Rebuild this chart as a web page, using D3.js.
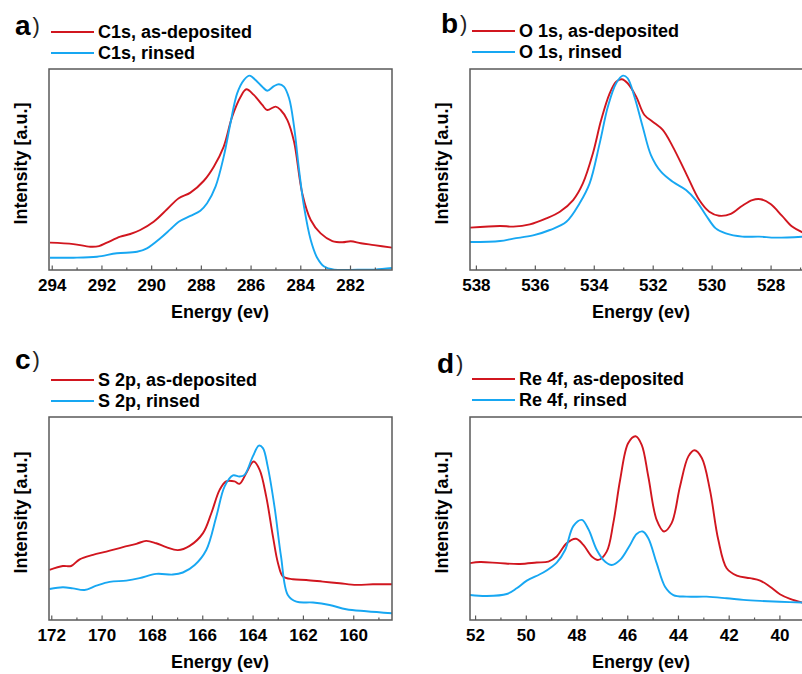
<!DOCTYPE html>
<html>
<head>
<meta charset="utf-8">
<script src="https://cdn.jsdelivr.net/npm/d3@7"></script>
<style>
  html, body { margin: 0; padding: 0; background: #fff; }
  svg { display: block; font-family: Arial, 'Liberation Sans', sans-serif; }
</style>
</head>
<body>
<svg id="chart" width="802" height="674"></svg>
<script>
// C1s
const c1sDepE = [294.07, 293.13, 292.45, 292.1, 291.78, 291.24, 290.84, 290.44, 289.9, 289.36, 288.89, 288.42, 287.88, 287.48, 287.08, 286.74, 286.4, 286.17, 285.87, 285.53, 285.33, 284.99, 284.79, 284.52, 284.25, 283.92, 283.58, 283.18, 282.71, 282.3, 281.97, 281.56, 281.03, 280.29];
const c1sDepI = [13.6, 12.9, 11.6, 11.9, 13.6, 16.6, 17.9, 19.9, 24.0, 30.2, 35.7, 38.5, 44.4, 51.4, 61.4, 76.3, 86.2, 89.9, 87.1, 82.1, 79.6, 81.3, 79.6, 74.6, 63.8, 38.1, 24.9, 18.2, 14.4, 13.8, 14.3, 13.3, 12.4, 11.1];
const c1sRinE = [294.07, 293.13, 292.18, 291.38, 290.57, 290.17, 289.63, 289.23, 288.89, 288.42, 288.02, 287.75, 287.41, 287.08, 286.81, 286.54, 286.27, 286.04, 285.8, 285.53, 285.33, 285.06, 284.86, 284.66, 284.45, 284.25, 284.05, 283.85, 283.58, 283.31, 283.04, 282.64, 281.7, 281.0, 280.29];
const c1sRinI = [6.1, 6.1, 6.6, 8.3, 9.1, 10.8, 15.8, 20.2, 24.0, 26.9, 29.5, 33.2, 41.5, 56.4, 73.0, 87.9, 94.5, 96.7, 94.5, 91.2, 89.2, 91.5, 92.4, 91.2, 85.4, 71.3, 49.8, 31.5, 14.9, 5.8, 1.7, 0.2, 0.1, 0.2, 1.0];

// O 1s
const o1sDepE = [538.2, 537.18, 536.73, 536.17, 535.61, 535.15, 534.7, 534.37, 534.03, 533.75, 533.46, 533.24, 533.05, 532.85, 532.56, 532.28, 532.0, 531.66, 531.32, 530.87, 530.42, 530.08, 529.75, 529.35, 528.96, 528.62, 528.34, 528.0, 527.61, 527.27, 526.9];
const o1sDepI = [21.1, 21.9, 21.6, 22.7, 25.7, 29.0, 34.8, 43.1, 58.0, 74.6, 87.9, 93.7, 94.9, 92.9, 86.2, 77.1, 73.8, 69.7, 61.4, 48.1, 34.8, 29.0, 27.0, 27.9, 32.0, 34.8, 35.2, 32.8, 26.9, 21.6, 18.6];
const o1sRinE = [538.2, 537.18, 536.73, 536.06, 535.49, 534.93, 534.48, 534.14, 533.8, 533.52, 533.24, 533.01, 532.85, 532.62, 532.34, 532.06, 531.72, 531.32, 530.87, 530.54, 530.2, 529.86, 529.52, 528.96, 528.39, 527.83, 526.9];
const o1sRinI = [13.9, 14.4, 15.6, 17.2, 19.9, 24.0, 33.2, 43.1, 63.0, 81.3, 92.9, 96.7, 95.4, 86.2, 71.3, 57.2, 48.9, 43.9, 39.8, 34.8, 27.4, 20.7, 18.2, 16.6, 16.6, 16.1, 16.6];

// S 2p
const s2pDepE = [172.07, 171.54, 171.21, 170.87, 170.34, 169.81, 169.15, 168.62, 168.23, 167.83, 167.43, 166.97, 166.5, 165.97, 165.64, 165.31, 165.05, 164.72, 164.52, 164.25, 163.96, 163.72, 163.46, 163.19, 162.99, 162.79, 162.4, 161.87, 161.21, 160.54, 159.88, 159.22, 158.46];
const s2pDepI = [24.7, 26.6, 26.6, 29.9, 32.1, 33.7, 35.9, 37.5, 39.0, 37.8, 35.9, 34.4, 36.5, 42.8, 52.6, 64.1, 68.3, 68.3, 67.1, 72.4, 78.1, 74.0, 60.9, 41.1, 28.0, 21.4, 20.1, 19.7, 18.9, 18.1, 17.3, 17.6, 17.6];
const s2pRinE = [172.07, 171.54, 171.14, 170.68, 170.21, 169.68, 169.02, 168.49, 167.83, 167.17, 166.77, 166.3, 165.84, 165.44, 165.11, 164.78, 164.52, 164.32, 163.99, 163.75, 163.59, 163.4, 163.13, 162.87, 162.6, 162.26, 161.6, 160.94, 160.28, 159.48, 158.46];
const s2pRinI = [15.3, 16.1, 15.6, 14.8, 16.9, 18.8, 19.4, 20.6, 22.7, 22.4, 23.4, 27.1, 34.5, 51.0, 65.8, 71.2, 70.7, 71.5, 80.6, 85.9, 84.7, 75.7, 55.9, 31.3, 12.3, 9.0, 8.6, 7.4, 5.3, 4.3, 3.3];

// Re 4f
const re4fDepE = [52.2, 51.8, 51.01, 50.23, 49.57, 49.11, 48.78, 48.39, 48.02, 47.73, 47.4, 47.14, 46.81, 46.55, 46.28, 45.96, 45.67, 45.43, 45.17, 44.84, 44.55, 44.25, 43.92, 43.59, 43.35, 43.06, 42.74, 42.41, 42.08, 41.68, 41.16, 40.76, 40.37, 39.98, 39.58, 39.07];
const re4fDepI = [28.0, 28.6, 28.0, 27.6, 28.3, 28.8, 31.3, 37.8, 40.0, 37.0, 31.3, 29.6, 33.7, 47.7, 69.1, 87.2, 90.5, 86.3, 70.7, 49.3, 43.6, 47.7, 65.8, 80.6, 83.6, 79.8, 64.1, 39.5, 25.5, 21.9, 20.6, 19.4, 16.4, 12.7, 10.4, 8.5];
const re4fRinE = [52.2, 51.54, 50.75, 50.36, 49.96, 49.31, 48.78, 48.45, 48.12, 47.79, 47.53, 47.2, 46.88, 46.61, 46.28, 45.89, 45.63, 45.39, 45.17, 44.84, 44.51, 44.18, 43.66, 42.87, 42.08, 41.42, 40.76, 39.98, 39.07];
const re4fRinI = [12.3, 11.8, 12.8, 15.6, 19.4, 23.4, 28.3, 34.5, 46.4, 49.3, 44.7, 34.5, 28.8, 27.1, 29.6, 37.0, 42.4, 43.6, 40.3, 28.0, 16.4, 12.3, 11.5, 11.5, 10.7, 9.9, 9.4, 9.0, 8.6];

const c1sTicks = [294, 292, 290, 288, 286, 284, 282];
const o1sTicks = [538, 536, 534, 532, 530, 528];
const s2pTicks = [172, 170, 168, 166, 164, 162, 160];
const re4fTicks = [52, 50, 48, 46, 44, 42, 40];

const RED = '#d1161f',
  BLUE = '#17a7f2',
  FRAME = '#5a5a5a';

const svg = d3.select('#chart');

const zip = (xs, ys) => xs.map((x, i) => ({ e: x, v: ys[i] }));

const panels = [
  { id: 'a', name: 'C1s', left: 49, top: 69, bottom: 270, right: 392, xDom: [294.11, 280.31],
    ticks: c1sTicks, dep: zip(c1sDepE, c1sDepI), rin: zip(c1sRinE, c1sRinI), legY: 32, labelX: 15, labelY: 35 },
  { id: 'b', name: 'O 1s', left: 470, top: 69, bottom: 270, right: 803, xDom: [538.2, 526.9],
    ticks: o1sTicks, dep: zip(o1sDepE, o1sDepI), rin: zip(o1sRinE, o1sRinI), legY: 31, labelX: 441, labelY: 33 },
  { id: 'c', name: 'S 2p', left: 49, top: 417, bottom: 620, right: 392, xDom: [172.09, 158.46],
    ticks: s2pTicks, dep: zip(s2pDepE, s2pDepI), rin: zip(s2pRinE, s2pRinI), legY: 380, labelX: 15, labelY: 369 },
  { id: 'd', name: 'Re 4f', left: 470, top: 417, bottom: 620, right: 803, xDom: [52.2, 39.07],
    ticks: re4fTicks, dep: zip(re4fDepE, re4fDepI), rin: zip(re4fRinE, re4fRinI), legY: 379, labelX: 437, labelY: 373 }
];

const drawPanel = p => {
  const x = d3.scaleLinear().domain(p.xDom).range([p.left, p.right]),
    y = d3.scaleLinear().domain([0, 100]).range([p.bottom, p.top]),
    g = svg.append('g').attr('class', 'panel-' + p.id);

  g.append('clipPath')
    .attr('id', 'clip-' + p.id)
    .append('rect')
    .attr('x', p.left)
    .attr('y', p.top)
    .attr('width', p.right - p.left)
    .attr('height', p.bottom - p.top);

  const line = d3
    .line()
    .x(d => x(d.e))
    .y(d => y(d.v))
    .curve(d3.curveCatmullRom.alpha(0.5));

  const plot = g.append('g').attr('clip-path', `url(#clip-${p.id})`);
  plot
    .append('path')
    .datum(p.dep)
    .attr('d', line)
    .attr('fill', 'none')
    .attr('stroke', RED)
    .attr('stroke-width', 1.9);
  plot
    .append('path')
    .datum(p.rin)
    .attr('d', line)
    .attr('fill', 'none')
    .attr('stroke', BLUE)
    .attr('stroke-width', 1.9);

  // frame
  g.append('rect')
    .attr('x', p.left)
    .attr('y', p.top)
    .attr('width', p.right - p.left)
    .attr('height', p.bottom - p.top)
    .attr('fill', 'none')
    .attr('stroke', FRAME)
    .attr('stroke-width', 1.5);

  // bottom axis, ticks pointing inward
  const minor = d3.range(Math.ceil(p.xDom[1]), Math.floor(p.xDom[0]) + 1).filter(v => v % 2 !== 0);
  const ax = g.append('g').attr('transform', `translate(0,${p.bottom})`);
  ax.call(d3.axisBottom(x).tickValues(minor).tickSize(-2.5).tickFormat(''));
  ax.call(g2 => g2.select('.domain').remove());
  const axMaj = g.append('g').attr('transform', `translate(0,${p.bottom})`);
  axMaj.call(d3.axisBottom(x).tickValues(p.ticks).tickSize(-4.5).tickPadding(9));
  axMaj.select('.domain').remove();
  g.selectAll('.tick line').attr('stroke', FRAME).attr('stroke-width', 1.2);
  axMaj
    .selectAll('.tick text')
    .attr('fill', '#000')
    .style('font-size', '17px')
    .style('font-weight', 'bold')
    .style('font-family', "Arial, 'Liberation Sans', sans-serif");

  // axis titles
  g.append('text')
    .attr('x', p.left + 171)
    .attr('y', p.bottom + 48)
    .attr('text-anchor', 'middle')
    .style('font-size', '18px')
    .style('font-weight', 'bold')
    .text('Energy (ev)');

  const midY = (p.top + p.bottom) / 2 - 6;
  g.append('text')
    .attr('transform', `translate(${p.left - 28.5},${midY}) rotate(-90)`)
    .attr('text-anchor', 'middle')
    .attr('dominant-baseline', 'central')
    .style('font-size', '18px')
    .style('font-weight', 'bold')
    .text('Intensity [a.u.]');

  // panel letter
  const lab = g.append('text')
    .attr('x', p.labelX)
    .attr('y', p.labelY);
  lab.append('tspan').style('font-size', '28px').style('font-weight', 'bold').text(p.id);
  lab.append('tspan').attr('dx', 2).attr('dy', -2).style('font-size', '22px').style('fill', '#222').text(')');

  // legend
  const leg = [
    { label: p.name + ', as-deposited', color: RED },
    { label: p.name + ', rinsed', color: BLUE }
  ];
  const lx = p.left + 2;
  leg.forEach((d, i) => {
    const ly = p.legY + i * 21;
    g.append('line')
      .attr('x1', lx)
      .attr('x2', lx + 43)
      .attr('y1', ly)
      .attr('y2', ly)
      .attr('stroke', d.color)
      .attr('stroke-width', 1.8);
    g.append('text')
      .attr('x', lx + 47)
      .attr('y', ly)
      .attr('dominant-baseline', 'central')
      .style('font-size', '18px')
      .style('font-weight', 'bold')
      .text(d.label);
  });
};

panels.forEach(drawPanel);
</script>
</body>
</html>
